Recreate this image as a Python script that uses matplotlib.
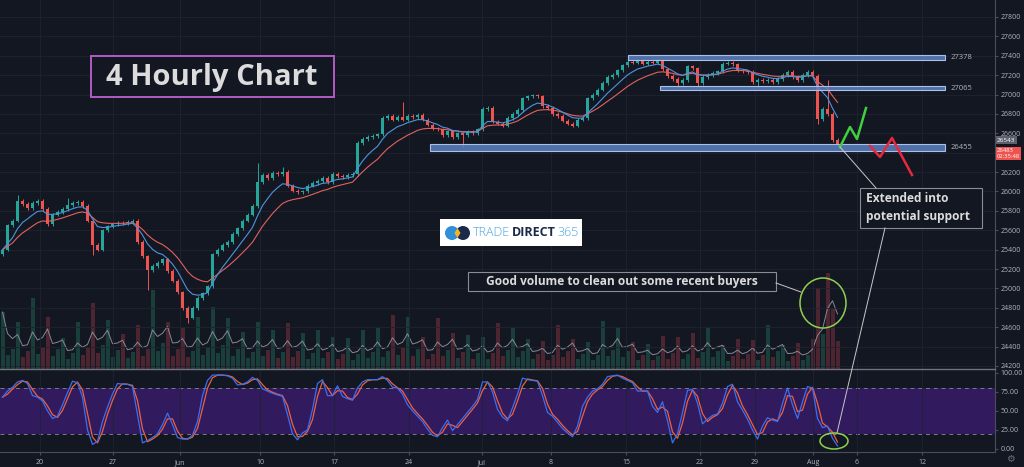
import numpy as np
import pandas as pd
import matplotlib
matplotlib.use("Agg")
import matplotlib.pyplot as plt
from matplotlib.patches import Rectangle, Ellipse, Polygon
from matplotlib.lines import Line2D
import matplotlib.transforms as mtransforms

plt.rcParams['font.family'] = ['Open Sans', 'DejaVu Sans']

W, H = 1024, 467
BG = '#131722'

# ---- data (4h bars, about 3 per session) ----
first_open = 25350
closes = [
    25400, 25650, 25700, 25900, 25870, 25830, 25880, 25900, 25820, 25660,
    25760, 25790, 25820, 25860, 25880, 25890, 25850, 25700, 25450, 25400,
    25600, 25640, 25660, 25680, 25670, 25690, 25700, 25480, 25330, 25190,
    25230, 25260, 25300, 25180, 25080, 24960, 24800, 24700, 24800, 24900,
    24950, 25020, 25350, 25400, 25450, 25480, 25560, 25620, 25700, 25760,
    25850, 26100, 26170, 26140, 26190, 26180, 26200, 26060, 26010, 25990,
    26000, 26060, 26090, 26110, 26140, 26100, 26180, 26160, 26150, 26170,
    26180, 26500, 26540, 26560, 26570, 26590, 26760, 26780, 26740, 26770,
    26740, 26780, 26770, 26790, 26740, 26690, 26650, 26640, 26580, 26620,
    26560, 26600, 26580, 26620, 26600, 26640, 26850, 26860, 26720, 26700,
    26680, 26760, 26800, 26840, 26960, 26980, 26990, 26980, 26880, 26860,
    26800, 26780, 26730, 26700, 26680, 26740, 26760, 26960, 27000, 27050,
    27120, 27180, 27200, 27250, 27300, 27340, 27330, 27350, 27320, 27340,
    27330, 27350, 27260, 27190, 27160, 27120, 27150, 27290, 27270, 27120,
    27180, 27200, 27220, 27240, 27320, 27330, 27310, 27250, 27240, 27230,
    27130, 27150, 27140, 27150, 27130, 27160, 27200, 27230, 27180, 27150,
    27200, 27230, 27190, 26750, 26850, 26800, 26530, 26483,
]
# notable wicks (bar index -> price)
wick_high = {3: 25960, 13: 25930, 51: 26290, 56: 26250, 80: 26920, 165: 27150}
wick_low = {18: 25345, 29: 24980, 37: 24640, 92: 26460, 135: 27065,
            139: 27080, 151: 27070, 163: 26700}

volumes = [
    57, 14, 20, 47, 12, 18, 71, 15, 22, 52, 13, 20, 31, 10, 16,
    47, 14, 21, 66, 16, 24, 49, 12, 19, 35, 11, 17, 44, 13, 20,
    79, 18, 26, 47, 13, 20, 42, 12, 18, 52, 14, 22, 62, 16, 24,
    51, 13, 20, 37, 11, 17, 47, 13, 19, 39, 11, 17, 46, 12, 18,
    36, 10, 16, 39, 11, 17, 32, 10, 15, 31, 9, 15, 39, 11, 17,
    41, 12, 18, 54, 14, 21, 52, 13, 20, 32, 10, 15, 51, 13, 19,
    36, 11, 17, 34, 10, 16, 32, 10, 16, 46, 13, 19, 41, 12, 18,
    30, 10, 15, 28, 9, 14, 44, 12, 18, 30, 10, 15, 27, 9, 14,
    48, 13, 19, 42, 12, 18, 27, 9, 14, 25, 9, 13, 33, 10, 16,
    32, 10, 15, 36, 11, 17, 41, 12, 18, 24, 8, 13, 30, 10, 15,
    29, 9, 14, 44, 12, 18, 24, 8, 13, 26, 9, 14, 30, 81, 35,
    96, 61, 28,
]

stoch_k = [
    68, 76, 81, 88, 90, 86, 70, 68, 63, 50,
    40, 43, 58, 74, 89, 87, 68, 25, 6, 10,
    36, 55, 72, 86, 85, 85, 82, 45, 8, 11,
    15, 20, 32, 47, 32, 15, 13, 13, 18, 36,
    70, 90, 97, 97, 97, 96, 93, 84, 85, 88,
    94, 90, 79, 76, 73, 71, 69, 45, 20, 12,
    21, 25, 52, 86, 91, 70, 70, 83, 69, 66,
    64, 80, 88, 91, 91, 91, 95, 90, 81, 80,
    72, 58, 50, 43, 36, 26, 18, 16, 28, 38,
    24, 32, 40, 48, 56, 65, 88, 88, 75, 52,
    42, 37, 54, 72, 93, 91, 90, 89, 70, 48,
    43, 35, 27, 21, 16, 30, 56, 68, 76, 79,
    85, 95, 96, 97, 93, 90, 87, 76, 76, 76,
    56, 48, 62, 37, 8, 20, 48, 77, 78, 60,
    33, 39, 44, 46, 60, 82, 85, 62, 51, 39,
    25, 13, 30, 41, 38, 36, 60, 80, 58, 40,
    62, 82, 80, 40, 28, 30, 14, 4,
]

zone_levels = [27378, 27065, 26455]
zone_start = [125, 131.5, 85.5]
zone_half = [27, 21, 34]

up_path_x = [167.5, 169.5, 170.9, 172.7]
up_path_y = [26459, 26665, 26542, 26861]
down_path_x = [173.5, 175.5, 177.9, 181.9]
down_path_y = [26469, 26356, 26552, 26170]

date_pos = [7.5, 22.1, 35.5, 51.5, 66.3, 81.3, 95.9, 109.7, 124.7, 139.5, 150.5, 162.1, 170.9, 183.9]
date_labels = ['20', '27', 'Jun', '10', '17', '24', 'Jul', '8', '15', '22', '29', 'Aug', '6', '12']
price_ticks = list(range(24200, 27801, 200))
stoch_ticks = [0, 25, 50, 75, 100]

# ---- derived series ----
c = np.array(closes, dtype=float)
x = np.arange(len(c))
o = np.r_[first_open, c[:-1]]
hi = np.maximum(o, c) + 18
lo = np.minimum(o, c) - 18
for k, v in wick_high.items():
    hi[k] = v
for k, v in wick_low.items():
    lo[k] = v
up = c >= o
ema_fast = pd.Series(c).ewm(span=7, adjust=False).mean()
ema_slow = pd.Series(c).ewm(span=14, adjust=False).mean()
vol = np.array(volumes, dtype=float)
vol_ma = pd.Series(vol).rolling(4, min_periods=1).mean()
k_line = pd.Series(stoch_k, dtype=float)
d_line = k_line.rolling(2, min_periods=1).mean()

# ---- figure ----
fig = plt.figure(figsize=(W / 100, H / 100), dpi=100, facecolor=BG)
ax = fig.add_axes([0, 1 - 369 / H, 995 / W, 369 / H])
ax2 = fig.add_axes([0, 1 - 452 / H, 995 / W, 83 / H])
vax = ax.twinx()
ax.set_zorder(3)
vax.set_zorder(2)
ax.patch.set_visible(False)
vax.patch.set_visible(False)
ax2.set_facecolor(BG)

xlim = (-0.5, 198.5)
for a in (ax, ax2, vax):
    a.set_xlim(*xlim)

tick_col = '#b2b5be'
grid_col = '#1f2330'
line_col = '#4a4e59'

# main price pane
ax.set_ylim(24169, 27975)
ax.set_xticks(date_pos)
ax.set_yticks(price_ticks)
# the last-price tag hides the 26400 label, as on the reference
ax.set_yticklabels(['' if p == 26400 else str(p) for p in price_ticks])
ax.yaxis.tick_right()
ax.tick_params(axis='y', length=2, color=line_col, labelsize=5, labelcolor=tick_col, pad=2)
ax.tick_params(axis='x', length=0, labelbottom=False)
ax.grid(True, color=grid_col, lw=0.6)
for s in ('top', 'left'):
    ax.spines[s].set_visible(False)
ax.spines['right'].set_color(line_col)
ax.spines['bottom'].set_color('#70737d')
ax.spines['bottom'].set_linewidth(1.0)

# volume underlay
vax.set_ylim(0, 369)
vax.set_yticks([])
for s in vax.spines.values():
    s.set_visible(False)
vcol = np.where(up, '#1a3f3b', '#4c2530')
vax.bar(x, vol, width=0.8, color=vcol, lw=0)
vax.plot(x, vol_ma, color='#868893', lw=0.7)

# candles
ccol = np.where(up, '#26a69a', '#ef5350')
ax.vlines(x, lo, hi, colors=ccol, lw=0.7, zorder=3)
ax.bar(x, np.maximum(np.abs(c - o), 8), bottom=np.minimum(o, c), width=0.6,
       color=ccol, lw=0, zorder=4)
ax.plot(x, ema_slow, color='#e0625f', lw=0.8, zorder=5)
ax.plot(x, ema_fast, color='#4f93dd', lw=0.8, zorder=5)

# zones
for lvl, st, hh in zip(zone_levels, zone_start, zone_half):
    ax.add_patch(Rectangle((st, lvl - hh), 188.5 - st, 2 * hh,
                           facecolor=(0.36, 0.50, 0.76, 0.85), edgecolor='#a9c1e8',
                           lw=0.8, zorder=6))
    ax.text(189.6, lvl, str(lvl), color=tick_col, fontsize=5.5, va='center',
            ha='left', zorder=7)

# projected paths
ax.plot(up_path_x, up_path_y, color='#3fcf3f', lw=1.8, zorder=7)
ax.plot(down_path_x, down_path_y, color='#e8283c', lw=1.8, zorder=7)

# price tags on the scale
trans = mtransforms.blended_transform_factory(ax.transAxes, ax.transData)
ax.text(1.002, 26530, '26543', transform=trans, fontsize=4.6, color='white',
        va='center', ha='left', clip_on=False, zorder=10,
        bbox=dict(boxstyle='square,pad=0.2', fc='#5d606b', ec='none'))
ax.text(1.002, 26390, '26483\n02:35:48', transform=trans, fontsize=4.2, color='white',
        va='center', ha='left', clip_on=False, zorder=10, linespacing=1.3,
        bbox=dict(boxstyle='square,pad=0.2', fc='#ef5350', ec='none'))

# stochastic pane
ax2.set_ylim(-4, 105)
ax2.axhspan(20, 80, color='#311a5e', lw=0, zorder=0)
ax2.axhline(80, color='#7a7d88', lw=0.7, ls=(0, (4, 4)), zorder=1)
ax2.axhline(20, color='#7a7d88', lw=0.7, ls=(0, (4, 4)), zorder=1)
ax2.plot(x, d_line, color='#f0603c', lw=0.9, zorder=3)
ax2.plot(x, k_line, color='#3a6ff0', lw=0.9, zorder=3)
ax2.set_yticks(stoch_ticks)
ax2.set_yticklabels(['%.2f' % t for t in stoch_ticks])
ax2.yaxis.tick_right()
ax2.set_xticks(date_pos)
ax2.set_xticklabels(date_labels)
ax2.tick_params(axis='y', length=2, color=line_col, labelsize=5, labelcolor=tick_col, pad=2)
ax2.tick_params(axis='x', length=2, color=line_col, labelsize=5, labelcolor=tick_col, pad=3)
ax2.grid(True, axis='x', color=grid_col, lw=0.6)
ax2.spines['top'].set_visible(False)
ax2.spines['left'].set_visible(False)
ax2.spines['right'].set_color(line_col)
ax2.spines['bottom'].set_color(line_col)
fig.text(1010 / W, 1 - 459 / H, '\u2699', color='#6a6d78', fontsize=7,
         ha='center', va='center', family='DejaVu Sans')


# ---- annotations in pixel positions ----
def fxy(px, py):
    return px / W, 1 - py / H


txt_col = '#dcdcdc'
box_col = '#8a8d96'

# title
fig.add_artist(Rectangle(fxy(91, 97), 243 / W, 41 / H, transform=fig.transFigure,
                         fc=BG, ec='#b15cc6', lw=1.4, zorder=20))
fig.text(*fxy(212, 77), '4 Hourly Chart', color=txt_col, fontsize=21,
         fontweight='bold', ha='center', va='center', zorder=21)

# logo
fig.add_artist(Rectangle(fxy(440, 246), 142 / W, 27 / H, transform=fig.transFigure,
                         fc='white', ec='none', zorder=20))
fig.add_artist(Ellipse(fxy(452, 233), 14 / W, 14 / H, transform=fig.transFigure,
                       fc='#2f8fd8', ec='none', zorder=21))
fig.add_artist(Ellipse(fxy(463, 233), 14 / W, 14 / H, transform=fig.transFigure,
                       fc='#1b2a4a', ec='none', zorder=21))
fig.add_artist(Polygon([fxy(457.5, 228), fxy(460.5, 233), fxy(457.5, 238), fxy(454.5, 233)],
                       closed=True, transform=fig.transFigure, fc='#f3b42c', ec='none', zorder=22))
fig.text(*fxy(473, 233), 'TRADE', color='#4aa3df', fontsize=9, ha='left', va='center',
         fontweight='light', zorder=22)
fig.text(*fxy(512, 233), 'DIRECT', color='#1b2a4a', fontsize=9, ha='left', va='center',
         fontweight='bold', zorder=22)
fig.text(*fxy(557, 233), '365', color='#4aa3df', fontsize=9, ha='left', va='center',
         fontweight='light', zorder=22)

# volume note
fig.add_artist(Rectangle(fxy(468, 291), 308 / W, 19 / H, transform=fig.transFigure,
                         fc=BG, ec=box_col, lw=0.8, zorder=20))
fig.text(*fxy(622, 281.5), 'Good volume to clean out some recent buyers', color=txt_col,
         fontsize=8.6, fontweight='bold', ha='center', va='center', zorder=21)
fig.add_artist(Line2D(*zip(fxy(776, 283), fxy(801, 292)), transform=fig.transFigure,
                      color='#c8c8c8', lw=0.7, zorder=20))
fig.add_artist(Ellipse(fxy(823, 303), 46 / W, 50 / H, transform=fig.transFigure,
                       fc='none', ec='#8fd14f', lw=1.1, zorder=20))

# support note
fig.add_artist(Rectangle(fxy(860, 228), 122 / W, 40 / H, transform=fig.transFigure,
                         fc=BG, ec=box_col, lw=0.8, zorder=20))
fig.text(*fxy(866, 198), 'Extended into', color=txt_col, fontsize=8.6,
         fontweight='bold', ha='left', va='center', zorder=21)
fig.text(*fxy(866, 217), 'potential support', color=txt_col, fontsize=8.6,
         fontweight='bold', ha='left', va='center', zorder=21)
fig.add_artist(Line2D(*zip(fxy(840, 147), fxy(876, 188)), transform=fig.transFigure,
                      color='#c8c8c8', lw=0.7, zorder=20))
fig.add_artist(Line2D(*zip(fxy(885, 228), fxy(837, 433)), transform=fig.transFigure,
                      color='#c8c8c8', lw=0.7, zorder=20))
fig.add_artist(Ellipse(fxy(834, 441), 28 / W, 16 / H, transform=fig.transFigure,
                       fc='none', ec='#8fd14f', lw=1.1, zorder=20))

fig.savefig('out.png', dpi=100, facecolor=BG)
